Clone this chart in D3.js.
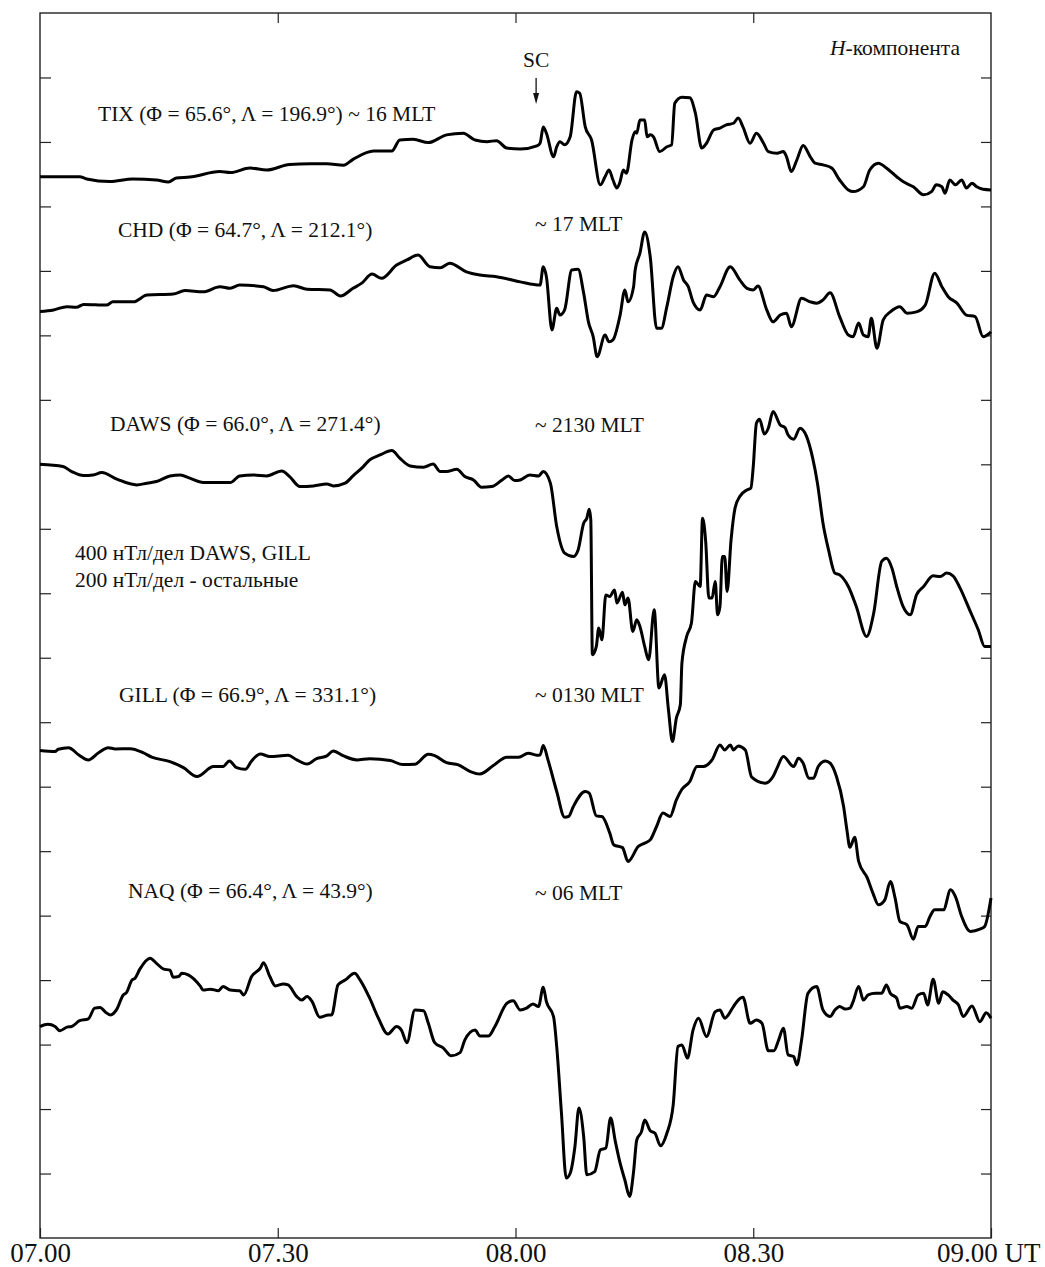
<!DOCTYPE html>
<html>
<head>
<meta charset="utf-8">
<script src="https://d3js.org/d3.v7.min.js"></script>
<style>
  body { margin: 0; background: #fff; }
  text { font-family: "Liberation Serif", "Times New Roman", serif; fill: #111; }
</style>
</head>
<body>
<div id="chart"></div>
<script>
// minutes after 07.00 UT, H deviation in nT (relative to start of trace)
const TIX = [[0,2],[5,2],[5.9,-5],[8.8,-13],[11.7,-5],[14.7,-8],[16.2,-14],[17.2,-2],[18.9,1],[22.7,18],[24,15],[26.5,29],[28.6,23],[31.5,40],[34.1,42],[36.2,42],[38.3,38],[39.5,56],[42.1,82],[44.4,82],[45.4,116],[47.1,118],[49,108],[51.3,132],[53.4,137],[54.9,116],[56.4,111],[57.6,114],[58.9,91],[60.6,88],[62.7,98],[63.1,106],[63.5,156],[63.9,137],[64.8,64],[65.2,95],[65.6,111],[66.2,101],[66.9,126],[67.7,266],[68.1,261],[68.8,157],[69.6,116],[70.7,-23],[71.3,2],[71.8,23],[72.3,-8],[72.8,-33],[73.2,-13],[73.6,23],[74,13],[74.7,116],[75.1,142],[75.3,137],[75.7,178],[76.3,178],[76.6,126],[77,132],[77.4,126],[78.2,80],[79.1,95],[79.7,101],[80.1,230],[81,249],[82,247],[82.7,199],[83.5,91],[84.1,106],[85,147],[85.8,153],[86.6,163],[87.5,168],[88.1,184],[88.7,157],[89.6,106],[90.4,137],[91.3,106],[91.9,80],[93,75],[93.8,80],[94.2,64],[94.8,18],[95.5,54],[96.3,99],[97.2,64],[97.8,44],[98.8,39],[99.9,29],[100.9,-8],[102,-39],[102.6,-44],[103.9,-29],[104.7,23],[105.8,44],[106.8,29],[108.1,2],[108.9,-13],[110.2,-29],[111.5,-54],[112.5,-44],[113.1,-23],[113.8,-29],[114.2,-49],[114.8,-8],[115.5,-23],[116.3,-8],[116.9,-33],[117.6,-18],[118.2,-29],[119,-37],[120,-39]];

const CHD = [[0,-6],[1.7,-1],[3.4,9],[4.6,7],[5.5,16],[8.4,14],[9.2,24],[11.8,24],[13.5,45],[16.8,48],[18.3,59],[20.6,55],[22.7,71],[24,66],[25.2,76],[28.2,71],[29.4,59],[32,74],[33.7,63],[36.6,61],[37.9,42],[39.5,66],[40.6,82],[41.9,110],[43.1,97],[45,138],[46.3,154],[47.7,169],[49.2,133],[50.5,130],[51.7,144],[53.8,117],[55.5,107],[57.6,102],[60.6,86],[63.1,76],[63.5,133],[63.9,102],[64.6,-63],[65.2,4],[65.6,-17],[66.2,-1],[67.1,123],[67.9,125],[68.6,51],[69.2,-38],[69.8,-84],[70.3,-146],[71.3,-79],[71.8,-100],[72.3,-94],[73.2,-17],[73.8,61],[74.2,24],[74.9,71],[75.1,123],[75.7,175],[76.3,241],[77,164],[77.8,-58],[78.4,-58],[79.1,9],[79.9,102],[80.5,133],[81.2,92],[81.8,71],[82.4,24],[83.3,-1],[84.1,45],[85,40],[85.8,71],[87.1,133],[88.3,92],[89.2,66],[90,61],[90.6,73],[91.7,-1],[92.5,-38],[93.4,-17],[94.2,-11],[94.8,-53],[96.1,35],[97.2,24],[98,20],[98.8,30],[99.7,52],[100.9,-22],[102,-79],[102.6,-84],[103.3,-42],[103.9,-79],[104.5,-84],[104.9,-27],[105.6,-120],[106.4,-32],[107.3,-7],[108.5,9],[109.4,-11],[110.6,-7],[111.7,14],[112.9,113],[113.8,71],[114.6,40],[115.7,20],[116.9,-17],[118,-22],[119,-84],[120,-69]];

const DAWS = [[0,0],[2.9,-14],[4,-45],[5.5,-70],[6.7,-66],[7.8,-51],[9.7,-92],[12.2,-128],[13.5,-117],[14.7,-107],[16.4,-72],[17.7,-66],[18.9,-86],[20.6,-113],[24,-113],[25.2,-72],[26.9,-66],[28.6,-72],[30.5,-41],[31.5,-76],[32.8,-138],[34.5,-134],[36.2,-122],[37,-134],[38.5,-117],[39.5,-72],[40.8,-14],[41.6,27],[42.9,58],[44.4,85],[45.4,38],[46.7,-10],[48.4,-18],[49.6,2],[50.5,-45],[51.3,-45],[52.6,-30],[53.6,-76],[54.7,-97],[55.7,-142],[57,-138],[58.3,-97],[59.1,-72],[59.9,-101],[60.6,-97],[61.8,-66],[62.9,-72],[63.5,-45],[64.4,-117],[65.2,-386],[66.2,-551],[67.3,-572],[67.9,-531],[68.6,-365],[69,-334],[69.3,-278],[69.5,-345],[69.7,-1182],[70.2,-1130],[70.5,-1016],[70.9,-1089],[71.4,-810],[71.9,-820],[72.5,-779],[72.8,-861],[73.5,-793],[73.8,-872],[74.2,-830],[74.8,-1037],[75.3,-965],[75.7,-1006],[76.3,-1130],[76.8,-1213],[77.5,-903],[78.1,-1388],[78.8,-1306],[79.3,-1523],[79.8,-1719],[80.3,-1574],[80.8,-1492],[81,-1233],[81.6,-1068],[82.2,-985],[82.7,-727],[83.3,-758],[83.6,-334],[84,-479],[84.4,-830],[84.8,-830],[85.2,-727],[85.5,-934],[85.8,-882],[86.1,-572],[86.4,-572],[86.7,-789],[87.2,-469],[87.7,-272],[88.3,-200],[89.2,-159],[89.7,-148],[90,-14],[90.4,255],[90.8,280],[91.4,188],[91.9,224],[92.5,327],[93.4,244],[94,228],[94.4,182],[95.1,156],[95.9,224],[96.7,176],[97.5,38],[98.1,-117],[98.8,-365],[99.5,-531],[100.3,-675],[100.9,-686],[102,-758],[103,-882],[104.3,-1068],[105.2,-923],[106.2,-603],[106.8,-582],[107.5,-644],[108.1,-758],[108.9,-882],[109.8,-934],[110.6,-810],[111.5,-758],[112.7,-692],[113.6,-696],[114.4,-675],[115.2,-692],[116.1,-768],[117.3,-903],[118.4,-1028],[119.2,-1130],[120,-1130]];

const GILL = [[0,4],[1.9,-2],[2.3,12],[3.6,22],[4.9,-23],[6.1,-54],[7.4,-9],[8.6,22],[9.5,14],[11.4,16],[13,-9],[14.1,-37],[16.4,-64],[18.1,-102],[19.8,-157],[21.9,-95],[23.1,-95],[23.9,-60],[24.8,-102],[25.9,-112],[26.7,-60],[27.8,-17],[29,-33],[31.3,-25],[32.4,-54],[33.7,-79],[34.9,-46],[36.2,-29],[37,2],[38.3,-29],[40,-54],[41.6,-46],[44.2,-58],[45.8,-83],[47.3,-81],[49,-19],[49.8,-27],[51.3,-71],[52.8,-85],[54.3,-126],[55.5,-141],[57.2,-89],[58.9,-37],[60.4,-37],[61.6,-12],[62.7,-25],[63.1,-23],[63.5,35],[64.1,-54],[65.2,-250],[66.2,-409],[66.7,-405],[67.3,-343],[68.8,-250],[69.3,-260],[70.2,-401],[70.9,-405],[71.9,-508],[72.4,-581],[73.5,-598],[74.2,-684],[75.5,-591],[76.3,-570],[77,-550],[77.8,-467],[78.6,-384],[79.5,-405],[80.3,-302],[81,-236],[82,-188],[82.9,-95],[83.7,-95],[84.8,-54],[85.8,39],[86.4,8],[87.1,39],[87.5,8],[88.1,33],[89,8],[89.8,-161],[91.5,-198],[92.5,-157],[93,-105],[93.8,-33],[95.1,-95],[95.7,-43],[96.3,-74],[97,-167],[97.6,-167],[98.2,-95],[99.1,-60],[99.7,-74],[100.5,-157],[101.4,-343],[101.8,-482],[102.2,-596],[102.8,-534],[103.3,-684],[104.4,-787],[105.1,-880],[105.8,-953],[106.6,-922],[107.3,-808],[107.9,-911],[108.5,-1056],[109.4,-1077],[110.2,-1166],[110.8,-1087],[111.7,-1087],[112.3,-1025],[112.9,-984],[114,-984],[114.9,-860],[115.5,-901],[116.3,-1025],[117.4,-1118],[118.6,-1104],[119.2,-1087],[120,-911]];

const NAQ = [[0,-4],[1,3],[1.9,-4],[2.5,-17],[3.4,-6],[4,-4],[5,14],[6.1,20],[6.9,53],[7.6,55],[8.2,42],[8.9,32],[9.7,50],[10.5,94],[10.9,101],[11.6,140],[12,146],[12.6,174],[13.9,208],[14.7,192],[15.6,174],[16.4,171],[16.8,149],[17.5,151],[17.9,161],[18.7,156],[20.2,122],[20.6,109],[21.5,112],[22.5,107],[23.1,120],[24,109],[25.2,107],[25.7,94],[26.7,151],[27.8,177],[28.2,194],[29,151],[29.7,122],[30.7,128],[31.3,125],[32.4,89],[33,78],[33.7,89],[34.3,75],[35.3,25],[36.4,32],[36.8,32],[37.6,125],[38.5,140],[39.7,161],[40.4,140],[41.6,84],[42.7,22],[43.9,-27],[45,-4],[45.6,-15],[46.3,-54],[47.3,47],[48.4,45],[49,6],[49.8,-54],[50.9,-71],[51.9,-95],[53,-85],[53.6,-46],[54.9,-15],[55.5,-33],[56.6,-33],[57.4,-4],[58.9,68],[59.7,76],[60.6,47],[61.4,53],[62.2,66],[62.9,58],[63.5,118],[63.9,73],[64.8,27],[65.2,-66],[65.8,-273],[66.4,-474],[66.9,-459],[67.5,-376],[68,-257],[68.6,-345],[69,-464],[70,-454],[70.7,-387],[71.4,-381],[72,-288],[72.6,-361],[73.2,-428],[73.8,-480],[74.4,-531],[74.9,-454],[75.3,-356],[75.9,-330],[76.3,-294],[77,-327],[77.6,-335],[78.3,-374],[79.1,-335],[79.9,-247],[80.5,-66],[81,-61],[81.7,-102],[82.4,-15],[83.1,22],[84.1,-35],[85.2,42],[85.8,47],[86.4,22],[87.5,58],[88.1,78],[88.7,87],[89.6,6],[90.4,16],[91.1,6],[91.9,-79],[92.6,-79],[93.2,-46],[93.8,-9],[94.4,-92],[95.1,-97],[95.5,-123],[96.1,-46],[96.9,99],[98,120],[98.8,47],[99.7,27],[100.3,47],[100.9,58],[101.6,50],[102.2,53],[102.6,73],[103.3,120],[103.9,78],[104.5,94],[105.4,99],[106.2,99],[106.8,125],[107.3,99],[108.1,84],[108.5,53],[109.4,58],[110,53],[110.8,94],[111.5,99],[112,63],[112.7,143],[113.4,68],[113.9,104],[114.6,94],[115.2,78],[115.9,63],[116.5,27],[117.6,60],[118.6,11],[119.4,39],[120,22]];

// station scale (nT per division) and baseline position (divisions above the bottom axis)
const stations = [
  {name: "TIX",  data: TIX,  scale: 200, base: 16.45},
  {name: "CHD",  data: CHD,  scale: 200, base: 14.4},
  {name: "DAWS", data: DAWS, scale: 400, base: 12.0},
  {name: "GILL", data: GILL, scale: 400, base: 7.55},
  {name: "NAQ",  data: NAQ,  scale: 200, base: 3.3}
];

const timeTicks = [0, 30, 60, 90, 120];
const timeLabels = ["07.00", "07.30", "08.00", "08.30", "09.00 UT"];
const nDiv = 19;

// Set up svg dimensions
let margin = {top: 13, right: 54, bottom: 29, left: 40},
    width = 1045 - margin.left - margin.right,
    height = 1267 - margin.top - margin.bottom;

let svg = d3.select("#chart").append("svg")
    .attr("width", width + margin.left + margin.right)
    .attr("height", height + margin.top + margin.bottom);

let g = svg.append("g")
    .attr("transform", "translate(" + margin.left + "," + margin.top + ")");

let x = d3.scaleLinear().domain([0, 120]).range([0, width]);
let y = d3.scaleLinear().domain([0, nDiv]).range([height, 0]);

// frame
g.append("rect")
    .attr("width", width)
    .attr("height", height)
    .attr("fill", "none")
    .attr("stroke", "#222")
    .attr("stroke-width", 1.4);

// inward ticks on all four sides
let divTicks = d3.range(1, nDiv);

g.append("g")
    .call(d3.axisLeft(y).tickValues(divTicks).tickSize(-11).tickFormat(""))
    .call(a => a.select(".domain").remove());

g.append("g")
    .attr("transform", "translate(" + width + ",0)")
    .call(d3.axisRight(y).tickValues(divTicks).tickSize(-10).tickFormat(""))
    .call(a => a.select(".domain").remove());

g.append("g")
    .call(d3.axisTop(x).tickValues([30, 60, 90]).tickSize(-10).tickFormat(""))
    .call(a => a.select(".domain").remove());

let xAxis = g.append("g")
    .attr("transform", "translate(0," + height + ")")
    .call(d3.axisBottom(x).tickValues(timeTicks).tickSize(-10).tickPadding(5)
        .tickFormat((d, i) => timeLabels[i]));
xAxis.select(".domain").remove();
xAxis.selectAll("text")
    .style("font-family", '"Liberation Serif", serif')
    .style("font-size", "27px")
    .attr("fill", "#111");
// last label sits inside the page
xAxis.selectAll("text").filter((d, i) => i === timeTicks.length - 1)
    .attr("text-anchor", "end")
    .attr("x", 49);

g.selectAll(".tick line").attr("stroke", "#222").attr("stroke-width", 1.2);

// traces
stations.forEach(function (st) {
    let line = d3.line()
        .curve(d3.curveMonotoneX)
        .x(d => x(d[0]))
        .y(d => y(st.base + d[1] / st.scale));
    g.append("path")
        .datum(st.data)
        .attr("fill", "none")
        .attr("stroke", "#000")
        .attr("stroke-width", 3)
        .attr("stroke-linejoin", "round")
        .attr("d", line);
});

// labels (page coordinates)
let labels = [
    {x: 98,  y: 121, t: "TIX (Φ = 65.6°, Λ = 196.9°) ~ 16 MLT"},
    {x: 118, y: 237, t: "CHD (Φ = 64.7°, Λ = 212.1°)"},
    {x: 535, y: 231, t: "~ 17 MLT"},
    {x: 110, y: 431, t: "DAWS (Φ = 66.0°, Λ = 271.4°)"},
    {x: 535, y: 432, t: "~ 2130 MLT"},
    {x: 75,  y: 560, t: "400 нТл/дел DAWS, GILL"},
    {x: 75,  y: 587, t: "200 нТл/дел - остальные"},
    {x: 119, y: 702, t: "GILL (Φ = 66.9°, Λ = 331.1°)"},
    {x: 535, y: 702, t: "~ 0130 MLT"},
    {x: 128, y: 898, t: "NAQ (Φ = 66.4°, Λ = 43.9°)"},
    {x: 535, y: 900, t: "~ 06 MLT"},
    {x: 523, y: 67,  t: "SC"}
];

svg.selectAll(".lbl")
    .data(labels)
    .enter().append("text")
    .attr("class", "lbl")
    .attr("x", d => d.x)
    .attr("y", d => d.y)
    .style("font-size", "21.5px")
    .text(d => d.t);

let comp = svg.append("text")
    .attr("x", 830)
    .attr("y", 55)
    .style("font-size", "21.5px");
comp.append("tspan").style("font-style", "italic").text("H");
comp.append("tspan").text("-компонента");

// SC arrow
let ax = margin.left + x(62.6);
svg.append("line")
    .attr("x1", ax).attr("x2", ax)
    .attr("y1", 78).attr("y2", 96)
    .attr("stroke", "#111")
    .attr("stroke-width", 1.3);
svg.append("path")
    .attr("d", "M" + (ax - 3) + ",93 L" + (ax + 3) + ",93 L" + ax + ",104 Z")
    .attr("fill", "#111");
</script>
</body>
</html>
